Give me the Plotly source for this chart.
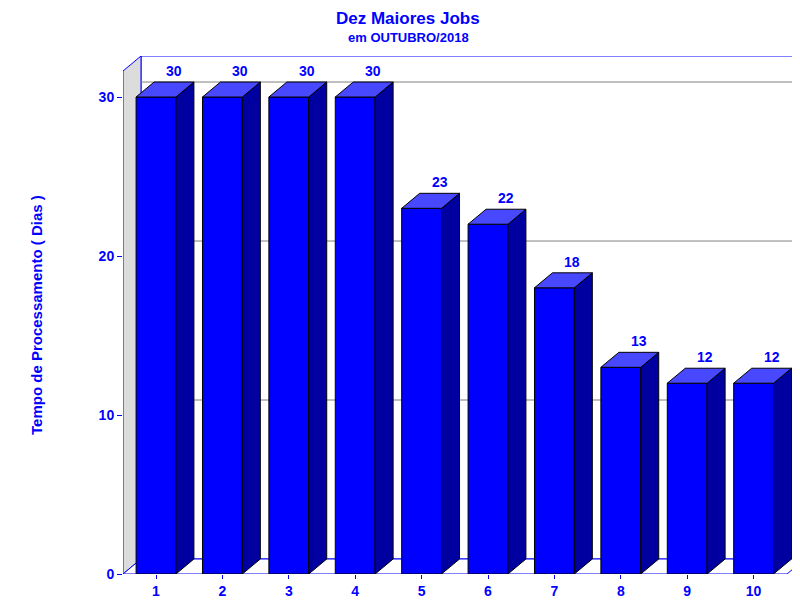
import plotly.graph_objects as go

# chart data
jobs = [1, 2, 3, 4, 5, 6, 7, 8, 9, 10]
dias = [30, 30, 30, 30, 23, 22, 18, 13, 12, 12]
y_ticks = [0, 10, 20, 30]

blue = "#0000FF"
font = "Liberation Sans, Arial, sans-serif"

# axis ranges and pseudo-3D depth (data units)
x0, x1 = 0.503, 10.774
y1 = 32.58
dx, dy = 0.271, 0.943
half = 0.3

fig = go.Figure()

def poly(xs, ys, fill, line="black", width=1):
    fig.add_trace(go.Scatter(x=xs + [xs[0]], y=ys + [ys[0]], mode="lines",
                             fill="toself", fillcolor=fill,
                             line=dict(color=line, width=width),
                             hoverinfo="skip", showlegend=False))

# back wall, left wall, floor
poly([x0 + dx, x1, x1, x0 + dx], [dy, dy, y1, y1], "white", blue)
poly([x0, x0 + dx, x0 + dx, x0], [0, dy, y1, y1 - dy], "#DCDCDC", blue)
poly([x0, x1 - dx, x1, x0 + dx], [0, 0, dy, dy], "white", blue)

# gridlines on the back wall
for t in y_ticks[1:]:
    fig.add_trace(go.Scatter(x=[x0 + dx, x1], y=[t + dy, t + dy], mode="lines",
                             line=dict(color="#808080", width=1),
                             hoverinfo="skip", showlegend=False))

# bars
for j, v in zip(jobs, dias):
    l, r = j - half, j + half
    poly([l, r, r, l], [0, 0, v, v], blue)
    poly([r, r + dx, r + dx, r], [0, dy, v + dy, v], "#0000A0")
    poly([l, r, r + dx, l + dx], [v, v, v + dy, v + dy], "#4848FF")
    fig.add_annotation(x=j + dx, y=v + dy, text=f"<b>{v}</b>", showarrow=False,
                       yanchor="bottom", yshift=1,
                       font=dict(family=font, size=14, color=blue))

# titles (pixel positions via paper offsets)
xs = 400 - (115 + (800 - 118) / 2)
fig.add_annotation(x=0.5, y=1, xref="paper", yref="paper", yshift=48 - 10, xshift=xs,
                   text="<b>Dez Maiores Jobs</b>", showarrow=False, yanchor="middle",
                   font=dict(family=font, size=17, color=blue))
fig.add_annotation(x=0.5, y=1, xref="paper", yref="paper", yshift=48 - 29, xshift=xs,
                   text="<b>em OUTUBRO/2018</b>", showarrow=False, yanchor="middle",
                   font=dict(family=font, size=13, color=blue))
fig.add_annotation(x=0, y=0.5, xref="paper", yref="paper", xshift=28 - 115,
                   text="<b>Tempo de Processamento ( Dias )</b>", textangle=-90,
                   showarrow=False, xanchor="center",
                   font=dict(family=font, size=15, color=blue))

fig.update_layout(
    width=800, height=600,
    margin=dict(l=115, r=3, t=48, b=34, autoexpand=False),
    paper_bgcolor="white", plot_bgcolor="white",
    showlegend=False,
    font=dict(family=font, color=blue),
)

fig.update_xaxes(range=[x0, x1], tickvals=jobs, ticktext=[f"<b>{j}</b>" for j in jobs],
                 showgrid=False, zeroline=False, showline=False, automargin=False,
                 ticks="outside", ticklen=4, tickcolor=blue,
                 tickfont=dict(family=font, size=14, color=blue))
fig.update_yaxes(range=[0, y1], tickvals=y_ticks, ticktext=[f"<b>{t}</b>" for t in y_ticks],
                 showgrid=False, zeroline=False, automargin=False,
                 showline=False, ticks="outside", ticklen=5, tickcolor=blue,
                 tickfont=dict(family=font, size=14, color=blue))

fig.write_html("out.html")
